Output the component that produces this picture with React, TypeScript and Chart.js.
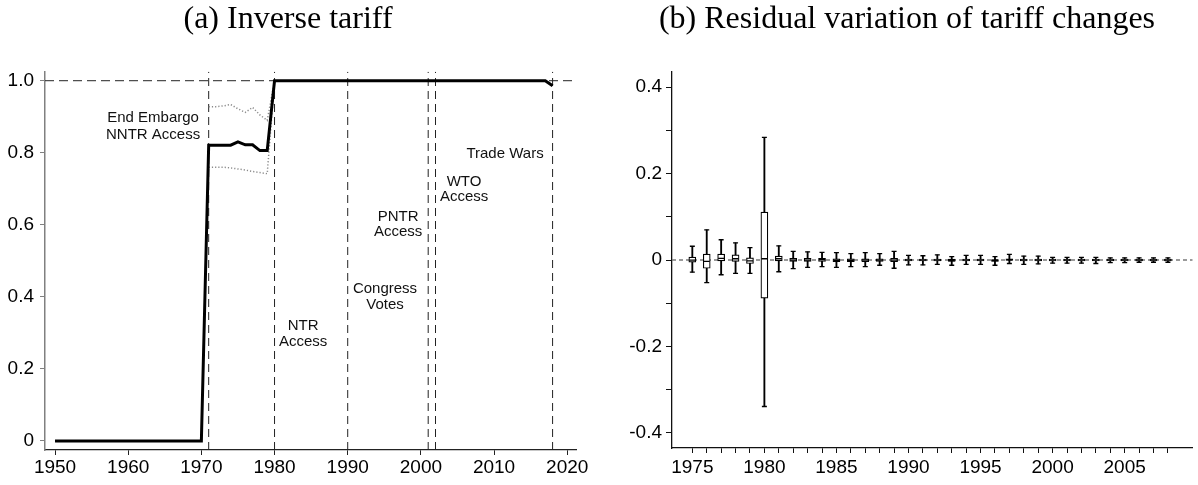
import React, { useEffect, useRef } from 'react';
import { Chart, registerables } from 'chart.js';

Chart.register(...registerables);

// ---------- Panel (a): inverse tariff ----------
const leftYears = [
  1950, 1951, 1952, 1953, 1954, 1955, 1956, 1957, 1958, 1959,
  1960, 1961, 1962, 1963, 1964, 1965, 1966, 1967, 1968, 1969,
  1970, 1971, 1972, 1973, 1974, 1975, 1976, 1977, 1978, 1979,
  1980, 1981, 1982, 1983, 1984, 1985, 1986, 1987, 1988, 1989,
  1990, 1991, 1992, 1993, 1994, 1995, 1996, 1997, 1998, 1999,
  2000, 2001, 2002, 2003, 2004, 2005, 2006, 2007, 2008, 2009,
  2010, 2011, 2012, 2013, 2014, 2015, 2016, 2017, 2018,
];
const inverseTariff = [
  0, 0, 0, 0, 0, 0, 0, 0, 0, 0,
  0, 0, 0, 0, 0, 0, 0, 0, 0, 0,
  0, 0.821, 0.821, 0.821, 0.821, 0.83, 0.822, 0.822, 0.806, 0.806,
  1, 1, 1, 1, 1, 1, 1, 1, 1, 1,
  1, 1, 1, 1, 1, 1, 1, 1, 1, 1,
  1, 1, 1, 1, 1, 1, 1, 1, 1, 1,
  1, 1, 1, 1, 1, 1, 1, 1, 0.986,
];
const ciYears = [1971, 1972, 1973, 1974, 1975, 1976, 1977, 1978, 1979, 1980];
const ciUpper = [0.928, 0.928, 0.93, 0.934, 0.922, 0.912, 0.926, 0.905, 0.89, 1];
const ciLower = [0.76, 0.76, 0.76, 0.758, 0.755, 0.752, 0.748, 0.745, 0.742, 1];

const eventYears = [1971, 1980, 1990, 2001, 2002, 2018];
const eventLabels = [
  ['End Embargo', 'NNTR Access'],
  ['NTR', 'Access'],
  ['Congress', 'Votes'],
  ['PNTR', 'Access'],
  ['WTO', 'Access'],
  ['Trade Wars'],
];
const eventLabelX = [1963.4, 1983.9, 1995.1, 1996.9, 2005.9, 2011.5];
const eventLabelY = [0.874, 0.298, 0.4, 0.601, 0.698, 0.798];

const leftXTicks = [1950, 1960, 1970, 1980, 1990, 2000, 2010, 2020];
const leftXLabels = ['1950', '1960', '1970', '1980', '1990', '2000', '2010', '2020'];
const leftYTicks = [0, 0.2, 0.4, 0.6, 0.8, 1.0];
const leftYLabels = ['0', '0.2', '0.4', '0.6', '0.8', '1.0'];
const leftXRange = [1948.63, 2021.2];
const leftYRange = [-0.025, 1.025];
const referenceLevel = 1;

// ---------- Panel (b): residual variation ----------
const boxYears = [
  1975, 1976, 1977, 1978, 1979, 1980, 1981, 1982, 1983, 1984,
  1985, 1986, 1987, 1988, 1989, 1990, 1991, 1992, 1993, 1994,
  1995, 1996, 1997, 1998, 1999, 2000, 2001, 2002, 2003, 2004,
  2005, 2006, 2007, 2008,
];
const whiskerLow = [
  -0.028, -0.052, -0.034, -0.031, -0.031, -0.339, -0.027, -0.02, -0.017, -0.015,
  -0.017, -0.015, -0.015, -0.012, -0.019, -0.011, -0.011, -0.01, -0.012, -0.01,
  -0.01, -0.012, -0.008, -0.01, -0.009, -0.007, -0.007, -0.007, -0.008, -0.006,
  -0.006, -0.005, -0.005, -0.005,
];
const boxLow = [
  -0.005, -0.019, -0.002, -0.003, -0.008, -0.088, -0.002, -0.003, -0.003, -0.003,
  -0.004, -0.004, -0.004, -0.003, -0.004, -0.002, -0.002, -0.002, -0.003, -0.002,
  -0.002, -0.003, -0.001, -0.002, -0.002, -0.002, -0.002, -0.002, -0.002, -0.002,
  -0.002, -0.002, -0.002, -0.002,
];
const boxMedian = [
  0.0, -0.003, 0.004, 0.003, -0.002, 0.003, 0.003, 0.0, 0.0, 0.001,
  -0.001, -0.001, 0.0, 0.0, 0.0, 0.0, 0.0, 0.0, -0.001, 0.0,
  0.0, -0.001, 0.001, 0.0, 0.0, 0.0, 0.0, 0.0, 0.0, 0.0,
  0.0, 0.0, 0.0, 0.0,
];
const boxHigh = [
  0.007, 0.014, 0.014, 0.012, 0.005, 0.111, 0.009, 0.004, 0.004, 0.004,
  0.003, 0.003, 0.003, 0.003, 0.004, 0.002, 0.002, 0.002, 0.002, 0.002,
  0.002, 0.001, 0.003, 0.002, 0.002, 0.002, 0.002, 0.002, 0.002, 0.002,
  0.002, 0.002, 0.002, 0.002,
];
const whiskerHigh = [
  0.032, 0.07, 0.047, 0.04, 0.029, 0.284, 0.033, 0.02, 0.019, 0.018,
  0.017, 0.015, 0.017, 0.015, 0.02, 0.011, 0.01, 0.012, 0.008, 0.011,
  0.011, 0.008, 0.013, 0.009, 0.009, 0.006, 0.006, 0.006, 0.006, 0.005,
  0.005, 0.005, 0.005, 0.005,
];
const rightXLabels = boxYears.map((y) => (y % 5 === 0 ? String(y) : ''));
const rightYTicks = [-0.4, -0.3, -0.2, -0.1, 0, 0.1, 0.2, 0.3, 0.4];
const rightYLabels = ['-0.4', '', '-0.2', '', '0', '', '0.2', '', '0.4'];
const rightXRange = [1973.59, 2009.72];
const rightYRange = [-0.435, 0.436];
const zeroLevel = 0;

const TICK_FONT = { family: 'Liberation Sans, Arial, sans-serif', size: 19 };
const TITLE_FONT = { family: 'Liberation Serif, serif', size: 32, weight: 'normal' as const };

const annotationPlugin = {
  id: 'eventLabels',
  afterDatasetsDraw(chart: any) {
    const { ctx, scales } = chart;
    ctx.save();
    ctx.font = '15px "Liberation Sans", Arial, sans-serif';
    ctx.fillStyle = '#111';
    ctx.textAlign = 'center';
    ctx.textBaseline = 'middle';
    eventLabels.forEach((lines, i) => {
      const cx = scales.x.getPixelForValue(eventLabelX[i]);
      const cy = scales.y.getPixelForValue(eventLabelY[i]);
      const gap = i === 0 ? 17 : 15.5;
      const start = cy - ((lines.length - 1) * gap) / 2;
      lines.forEach((t, j) => ctx.fillText(t, cx, start + j * gap));
    });
    ctx.restore();
  },
};

function LeftChart() {
  const ref = useRef<HTMLCanvasElement>(null);
  useEffect(() => {
    const datasets: any[] = [];
    datasets.push({
      data: leftYears.map((x, i) => ({ x, y: inverseTariff[i] })),
      showLine: true,
      borderColor: '#000',
      borderWidth: 3,
      pointRadius: 0,
      order: 0,
    });
    datasets.push({
      data: ciYears.map((x, i) => ({ x, y: ciUpper[i] })),
      showLine: true,
      borderColor: '#8a8a8a',
      borderWidth: 1.5,
      borderDash: [1.2, 2],
      pointRadius: 0,
      order: 2,
    });
    datasets.push({
      data: ciYears.map((x, i) => ({ x, y: ciLower[i] })),
      showLine: true,
      borderColor: '#8a8a8a',
      borderWidth: 1.5,
      borderDash: [1.2, 2],
      pointRadius: 0,
      order: 2,
    });
    datasets.push({
      data: [
        { x: leftXRange[0], y: referenceLevel },
        { x: leftXRange[1], y: referenceLevel },
      ],
      showLine: true,
      borderColor: '#222',
      borderWidth: 1,
      borderDash: [9, 5],
      pointRadius: 0,
      order: 3,
    });
    eventYears.forEach((yr) => {
      datasets.push({
        data: [
          { x: yr, y: leftYRange[0] },
          { x: yr, y: leftYRange[1] },
        ],
        showLine: true,
        borderColor: '#222',
        borderWidth: 1,
        borderDash: [8, 5],
        pointRadius: 0,
        order: 3,
      });
    });
    const chart = new Chart(ref.current!, {
      type: 'scatter',
      data: { datasets },
      plugins: [annotationPlugin],
      options: {
        responsive: false,
        animation: false,
        events: [],
        layout: { padding: { left: 0, right: 24, top: 0, bottom: 0 } },
        plugins: {
          legend: { display: false },
          tooltip: { enabled: false },
          title: {
            display: true,
            text: '(a) Inverse tariff',
            font: TITLE_FONT,
            color: '#000',
            padding: { top: 0, bottom: 33.3 },
          },
        },
        scales: {
          x: {
            type: 'linear',
            min: leftXRange[0],
            max: leftXRange[1],
            afterBuildTicks: (s: any) => {
              s.ticks = leftXTicks.map((v) => ({ value: v }));
            },
            afterFit: (s: any) => {
              s.height = 35;
            },
            ticks: {
              autoSkip: false,
              maxRotation: 0,
              font: TICK_FONT,
              color: '#000',
              padding: 1,
              callback: (_v: any, i: number) => leftXLabels[i],
            },
            grid: { drawOnChartArea: false, drawTicks: true, tickLength: 5, color: '#222', lineWidth: 1 },
            border: { display: true, color: '#222', width: 1.3 },
          },
          y: {
            type: 'linear',
            min: leftYRange[0],
            max: leftYRange[1],
            afterBuildTicks: (s: any) => {
              s.ticks = leftYTicks.map((v) => ({ value: v }));
            },
            afterFit: (s: any) => {
              s.width = 45;
            },
            ticks: {
              autoSkip: false,
              font: TICK_FONT,
              color: '#000',
              padding: 6,
              callback: (_v: any, i: number) => leftYLabels[i],
            },
            grid: { drawOnChartArea: false, drawTicks: true, tickLength: 5, color: '#808080', lineWidth: 1 },
            border: { display: true, color: '#808080', width: 1.5 },
          },
        },
      },
    });
    return () => chart.destroy();
  }, []);
  return (
    <canvas
      ref={ref}
      width={600}
      height={485}
      style={{ position: 'absolute', left: 0, top: 0, width: 600, height: 485 }}
    />
  );
}

function RightChart() {
  const ref = useRef<HTMLCanvasElement>(null);
  useEffect(() => {
    const datasets: any[] = [
      {
        type: 'line',
        data: [
          { x: rightXRange[0], y: zeroLevel },
          { x: rightXRange[1], y: zeroLevel },
        ],
        borderColor: '#7a7a7a',
        borderWidth: 1.5,
        borderDash: [4, 3],
        pointRadius: 0,
        order: 6,
      },
      {
        type: 'bar',
        data: boxYears.map((x, i) => ({ x, y: [whiskerLow[i], whiskerHigh[i]] })),
        backgroundColor: '#000',
        borderWidth: 0,
        barThickness: 1.2,
        grouped: false,
        order: 5,
      },
      {
        type: 'bar',
        data: boxYears.map((x, i) => ({ x, y: [boxLow[i], boxHigh[i]] })),
        backgroundColor: '#fff',
        borderColor: '#000',
        borderWidth: 1.2,
        borderSkipped: false,
        barThickness: 7,
        grouped: false,
        order: 4,
      },
      {
        type: 'scatter',
        data: boxYears.map((x, i) => ({ x, y: whiskerLow[i] })),
        pointStyle: 'line',
        pointRadius: 2.5,
        borderColor: '#000',
        borderWidth: 1.3,
        order: 3,
      },
      {
        type: 'scatter',
        data: boxYears.map((x, i) => ({ x, y: whiskerHigh[i] })),
        pointStyle: 'line',
        pointRadius: 2.5,
        borderColor: '#000',
        borderWidth: 1.3,
        order: 3,
      },
      {
        type: 'scatter',
        data: boxYears.map((x, i) => ({ x, y: boxMedian[i] })),
        pointStyle: 'line',
        pointRadius: 3,
        borderColor: '#000',
        borderWidth: 1.3,
        order: 2,
      },
    ];
    const chart = new Chart(ref.current!, {
      type: 'scatter',
      data: { datasets },
      options: {
        responsive: false,
        animation: false,
        events: [],
        layout: { padding: { left: 0, right: 2, top: 0, bottom: 0 } },
        plugins: {
          legend: { display: false },
          tooltip: { enabled: false },
          title: {
            display: true,
            text: '(b) Residual variation of tariff changes',
            font: TITLE_FONT,
            color: '#000',
            padding: { top: 0, bottom: 33.3 },
          },
        },
        scales: {
          x: {
            type: 'linear',
            min: rightXRange[0],
            max: rightXRange[1],
            offset: false,
            afterBuildTicks: (s: any) => {
              s.ticks = boxYears.map((v) => ({ value: v }));
            },
            afterFit: (s: any) => {
              s.height = 37;
            },
            ticks: {
              autoSkip: false,
              maxRotation: 0,
              font: TICK_FONT,
              color: '#000',
              padding: 3,
              callback: (_v: any, i: number) => rightXLabels[i],
            },
            grid: { drawOnChartArea: false, drawTicks: true, tickLength: 5, color: '#111', lineWidth: 1, offset: false },
            border: { display: true, color: '#111', width: 1.3 },
          },
          y: {
            type: 'linear',
            min: rightYRange[0],
            max: rightYRange[1],
            afterBuildTicks: (s: any) => {
              s.ticks = rightYTicks.map((v) => ({ value: v }));
            },
            afterFit: (s: any) => {
              s.width = 54;
            },
            ticks: {
              autoSkip: false,
              font: TICK_FONT,
              color: '#000',
              padding: 4,
              callback: (_v: any, i: number) => rightYLabels[i],
            },
            grid: { drawOnChartArea: false, drawTicks: true, tickLength: 6, color: '#111', lineWidth: 1 },
            border: { display: true, color: '#111', width: 1.3 },
          },
        },
      },
    });
    return () => chart.destroy();
  }, []);
  return (
    <canvas
      ref={ref}
      width={580}
      height={485}
      style={{ position: 'absolute', left: 618, top: 0, width: 580, height: 485 }}
    />
  );
}

export default function App() {
  return (
    <div
      style={{
        position: 'fixed',
        left: 0,
        top: 0,
        width: 1198,
        height: 485,
        background: '#fff',
        overflow: 'hidden',
      }}
    >
      <LeftChart />
      <RightChart />
    </div>
  );
}
